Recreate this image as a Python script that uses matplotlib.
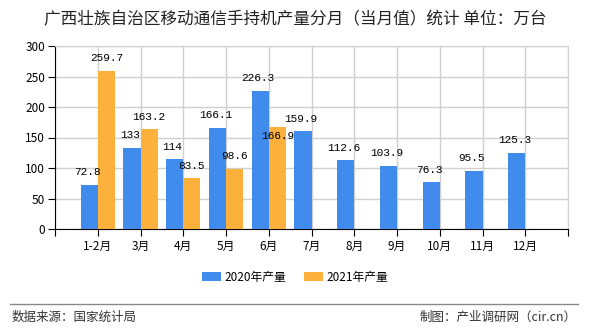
import matplotlib.pyplot as plt
from matplotlib.lines import Line2D
import numpy as np

plt.rcParams['font.family'] = ['Noto Sans CJK SC', 'DejaVu Sans']

# data
months = ['1-2月', '3月', '4月', '5月', '6月', '7月', '8月', '9月', '10月', '11月', '12月']
prod_2020 = [72.8, 133, 114, 166.1, 226.3, 159.9, 112.6, 103.9, 76.3, 95.5, 125.3]
prod_2021 = [259.7, 163.2, 83.5, 98.6, 166.9]
series_names = ['2020年产量', '2021年产量']

blue = '#418BEC'
orange = '#FBB13C'

fig = plt.figure(figsize=(5.9, 3.3), dpi=100)
ax = fig.add_axes([55 / 590, 1 - 229 / 330, 513 / 590, 183 / 330])

x = np.arange(len(months))
w = 0.4
b1 = ax.bar(x - w / 2, prod_2020, width=w, color=blue, label=series_names[0], zorder=3)
x2 = np.arange(len(prod_2021))
b2 = ax.bar(x2 + w / 2, prod_2021, width=w, color=orange, label=series_names[1], zorder=3)

# value labels above bars
def fmt(v):
    return str(int(v)) if float(v).is_integer() else str(v)

for rect, v in zip(b1, prod_2020):
    ax.annotate(fmt(v), (rect.get_x() + rect.get_width() / 2 - 0.05, v), xytext=(0, 9),
                textcoords='offset points', ha='center', va='center',
                fontsize=8, family=['Liberation Mono'], zorder=5)
for i, (rect, v) in enumerate(zip(b2, prod_2021)):
    dy = 9
    if i == 4:
        dy = -6  # this label sits inside the bar in the original
    ax.annotate(fmt(v), (rect.get_x() + rect.get_width() / 2, v), xytext=(0, dy),
                textcoords='offset points', ha='center', va='center',
                fontsize=8, family=['Liberation Mono'], zorder=5)

ax.set_xlim(-1, 11)
ax.set_ylim(0, 300)
ax.set_yticks(np.arange(0, 301, 50))
ax.set_xticks(np.arange(-1, 12))
ax.set_xticklabels([''] + months + [''])
ax.tick_params(axis='both', labelsize=8.5, length=5, color='black')
ax.tick_params(axis='x', pad=3)
ax.tick_params(axis='y', pad=2)

ax.grid(True, color='#d0d0d0', linewidth=1, zorder=0)
ax.spines['top'].set_color('#d0d0d0')
ax.spines['right'].set_color('#d0d0d0')
ax.spines['left'].set_color('black')
ax.spines['bottom'].set_color('black')

fig.text(0.5, 1 - 20 / 330, '广西壮族自治区移动通信手持机产量分月（当月值）统计 单位：万台',
         ha='center', va='center', fontsize=12, color='#222222')

fig.legend(handles=[b1, b2], labels=series_names, loc='center', bbox_to_anchor=(0.5, 1 - 277 / 330),
           ncol=2, frameon=False, fontsize=8.5, handlelength=1.6, handleheight=0.7,
           columnspacing=1.5, handletextpad=0.3)

fig.add_artist(Line2D([10 / 590, 578 / 590], [1 - 304 / 330] * 2, color='#888888', lw=1))
fig.text(12 / 590, 1 - 317 / 330, '数据来源：国家统计局', ha='left', va='center', fontsize=9, color='#333333')
fig.text(577 / 590, 1 - 317 / 330, '制图：产业调研网（cir.cn）', ha='right', va='center', fontsize=9, color='#333333')

fig.savefig('out.png', dpi=100)
